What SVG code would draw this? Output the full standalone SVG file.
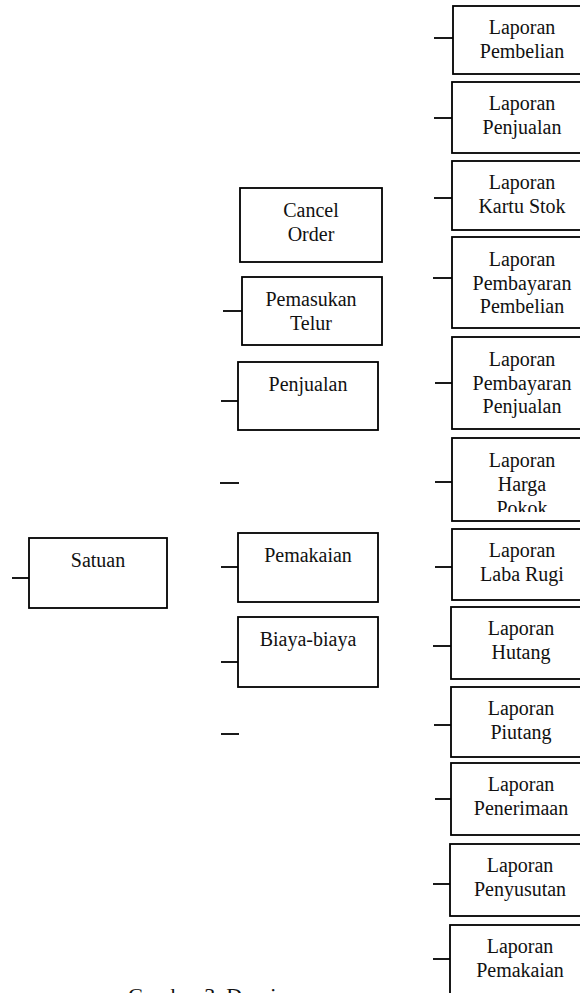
<svg xmlns="http://www.w3.org/2000/svg" width="580" height="993" viewBox="0 0 580 993">
<style>
rect.box{fill:#fff;stroke:#000;stroke-width:1.8}
line{stroke:#000;stroke-width:1.8}
text{font-family:"Liberation Serif","Times New Roman",serif;font-size:20px;fill:#111;text-anchor:middle}
text.cap{text-anchor:start;font-size:22px}
</style>
<defs>
<clipPath id="clipHP"><rect x="440" y="438" width="160" height="74"/></clipPath>
</defs>
<rect width="580" height="993" fill="#fff"/>
<g id="connectors">
<line x1="434" y1="38" x2="453" y2="38"/>
<line x1="434" y1="118" x2="452" y2="118"/>
<line x1="434" y1="198" x2="452" y2="198"/>
<line x1="433" y1="278" x2="452" y2="278"/>
<line x1="435" y1="383" x2="452" y2="383"/>
<line x1="435" y1="482" x2="452" y2="482"/>
<line x1="435" y1="567" x2="452" y2="567"/>
<line x1="433" y1="646" x2="451" y2="646"/>
<line x1="434" y1="725" x2="451" y2="725"/>
<line x1="435" y1="799" x2="451" y2="799"/>
<line x1="433" y1="884" x2="450" y2="884"/>
<line x1="433" y1="959" x2="450" y2="959"/>
<line x1="223" y1="311" x2="242" y2="311"/>
<line x1="221" y1="401" x2="238" y2="401"/>
<line x1="220" y1="483" x2="239" y2="483"/>
<line x1="221" y1="567" x2="238" y2="567"/>
<line x1="221" y1="662" x2="238" y2="662"/>
<line x1="221" y1="734" x2="239" y2="734"/>
<line x1="12" y1="578" x2="29" y2="578"/>
</g>
<g id="satuan"><rect class="box" x="29" y="538" width="138" height="70"/><text x="98" y="567">Satuan</text></g>
<g id="cancel-order"><rect class="box" x="240" y="188" width="142" height="74"/><text x="311" y="217">Cancel</text><text x="311" y="241">Order</text></g>
<g id="pemasukan-telur"><rect class="box" x="242" y="277" width="140" height="68"/><text x="311" y="306">Pemasukan</text><text x="311" y="329.5">Telur</text></g>
<g id="penjualan"><rect class="box" x="238" y="362" width="140" height="68"/><text x="308" y="391">Penjualan</text></g>
<g id="pemakaian"><rect class="box" x="238" y="533" width="140" height="69"/><text x="308" y="562">Pemakaian</text></g>
<g id="biaya-biaya"><rect class="box" x="238" y="617" width="140" height="70"/><text x="308" y="646">Biaya-biaya</text></g>
<g id="lap-pembelian"><rect class="box" x="453" y="6" width="140" height="68"/><text x="522" y="34">Laporan</text><text x="522" y="57.5">Pembelian</text></g>
<g id="lap-penjualan"><rect class="box" x="452" y="82" width="140" height="71"/><text x="522" y="110">Laporan</text><text x="522" y="133.5">Penjualan</text></g>
<g id="lap-kartu-stok"><rect class="box" x="452" y="161" width="140" height="69"/><text x="522" y="189">Laporan</text><text x="522" y="212.5">Kartu Stok</text></g>
<g id="lap-pemb-pembelian"><rect class="box" x="452" y="237" width="140" height="91"/><text x="522" y="266">Laporan</text><text x="522" y="289.5">Pembayaran</text><text x="522" y="313">Pembelian</text></g>
<g id="lap-pemb-penjualan"><rect class="box" x="452" y="337" width="140" height="92"/><text x="522" y="366">Laporan</text><text x="522" y="389.5">Pembayaran</text><text x="522" y="413">Penjualan</text></g>
<g id="lap-harga-pokok"><rect class="box" x="452" y="438" width="140" height="83"/><g clip-path="url(#clipHP)"><text x="522" y="467">Laporan</text><text x="522" y="490.5">Harga</text><text x="522" y="515">Pokok</text></g></g>
<g id="lap-laba-rugi"><rect class="box" x="452" y="529" width="140" height="71"/><text x="522" y="557">Laporan</text><text x="522" y="580.5">Laba Rugi</text></g>
<g id="lap-hutang"><rect class="box" x="451" y="607" width="140" height="72"/><text x="521" y="635">Laporan</text><text x="521" y="658.5">Hutang</text></g>
<g id="lap-piutang"><rect class="box" x="451" y="687" width="140" height="70"/><text x="521" y="715">Laporan</text><text x="521" y="738.5">Piutang</text></g>
<g id="lap-penerimaan"><rect class="box" x="451" y="763" width="140" height="72"/><text x="521" y="791">Laporan</text><text x="521" y="814.5">Penerimaan</text></g>
<g id="lap-penyusutan"><rect class="box" x="450" y="844" width="140" height="72"/><text x="520" y="872">Laporan</text><text x="520" y="895.5">Penyusutan</text></g>
<g id="lap-pemakaian"><rect class="box" x="450" y="925" width="140" height="90"/><text x="520" y="953">Laporan</text><text x="520" y="976.5">Pemakaian</text></g>
<text class="cap" x="128" y="1003">Gambar 3. Desain</text>
</svg>
